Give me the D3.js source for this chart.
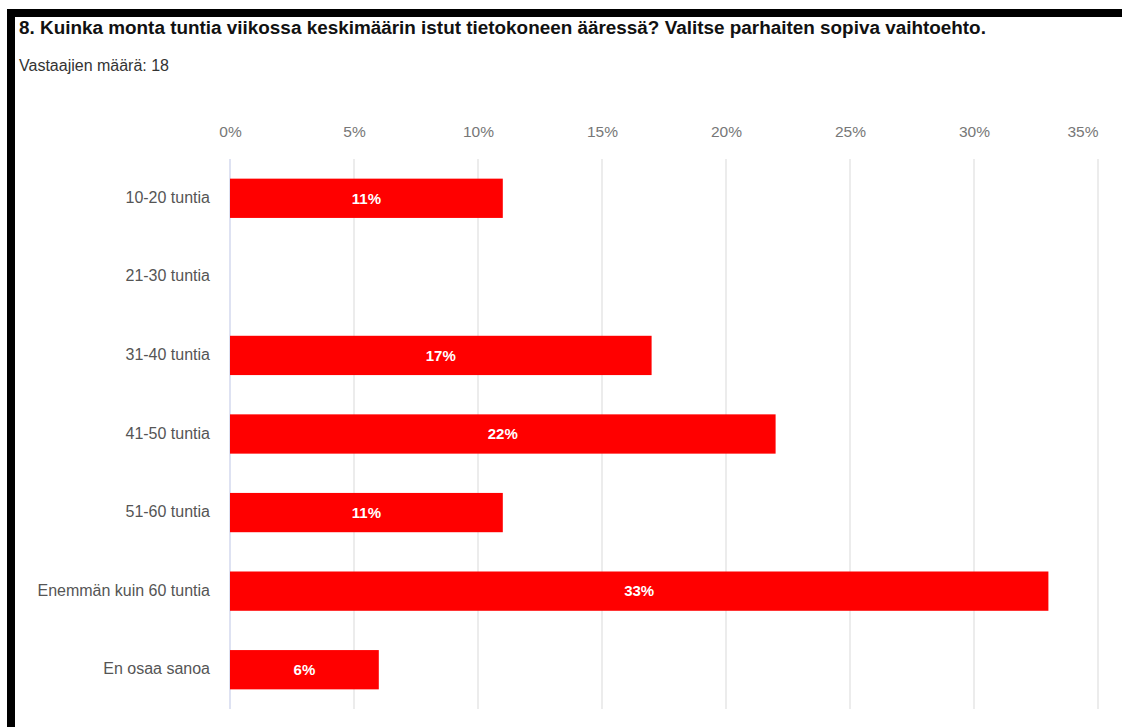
<!DOCTYPE html>
<html>
<head>
<meta charset="utf-8">
<script src="https://cdn.jsdelivr.net/npm/d3@7"></script>
<style>
  html, body { margin: 0; padding: 0; background: #fff; }
  svg { display: block; }
</style>
</head>
<body>
<svg id="chart" width="1122" height="727"></svg>
<script>
// Survey answers: hours per week at the computer
const categories = ["10-20 tuntia", "21-30 tuntia", "31-40 tuntia", "41-50 tuntia", "51-60 tuntia", "Enemmän kuin 60 tuntia", "En osaa sanoa"];
const shares = [11, 0, 17, 22, 11, 33, 6];
const tickValues = [0, 5, 10, 15, 20, 25, 30, 35];
const questionTitle = "8. Kuinka monta tuntia viikossa keskimäärin istut tietokoneen ääressä? Valitse parhaiten sopiva vaihtoehto.";
const respondents = "Vastaajien määrä: 18";

const svg = d3.select("#chart");
const font = "Arial, 'Liberation Sans', sans-serif";

// Black frame on the top and left edges
svg.append("rect").attr("x", 7).attr("y", 9).attr("width", 1115).attr("height", 8).attr("fill", "#000");
svg.append("rect").attr("x", 7).attr("y", 9).attr("width", 8).attr("height", 718).attr("fill", "#000");

svg.append("text")
  .attr("x", 19).attr("y", 34)
  .attr("font-family", font).attr("font-size", 18.9).attr("font-weight", "bold")
  .attr("fill", "#111")
  .text(questionTitle);

svg.append("text")
  .attr("x", 19).attr("y", 71)
  .attr("font-family", font).attr("font-size", 16)
  .attr("fill", "#333")
  .text(respondents);

const x = d3.scaleLinear().domain([0, 35]).range([230, 1098]);
const y = d3.scaleBand().domain(categories).range([159, 709]).paddingInner(0.5).paddingOuter(0.25);

// Vertical grid lines
svg.append("g").selectAll("line")
  .data(tickValues)
  .join("line")
  .attr("x1", d => x(d)).attr("x2", d => x(d))
  .attr("y1", 159).attr("y2", 709)
  .attr("stroke", d => d === 0 ? "#d3d9ee" : "#e6e6e6")
  .attr("stroke-width", 1.5);

// Top axis labels; the last one is kept inside the plot edge
const lastTick = tickValues[tickValues.length - 1];
const axis = svg.append("g")
  .attr("transform", "translate(0,137)")
  .call(d3.axisTop(x).tickValues(tickValues).tickFormat(d => d + "%").tickSize(0).tickPadding(0));
axis.select(".domain").remove();
axis.selectAll("text")
  .attr("font-family", font).attr("font-size", 15.5).attr("fill", "#777")
  .attr("text-anchor", d => d === lastTick ? "end" : "middle");

// Category labels
svg.append("g").selectAll("text")
  .data(categories)
  .join("text")
  .attr("x", 210)
  .attr("y", d => y(d) + y.bandwidth() / 2 - 1)
  .attr("dy", "0.35em")
  .attr("text-anchor", "end")
  .attr("font-family", font).attr("font-size", 16).attr("fill", "#555")
  .text(d => d);

const rows = categories.map((c, i) => ({ c, v: shares[i] }));

// Bars
svg.append("g").selectAll("rect")
  .data(rows.filter(d => d.v > 0))
  .join("rect")
  .attr("x", x(0))
  .attr("y", d => y(d.c))
  .attr("width", d => x(d.v) - x(0))
  .attr("height", y.bandwidth())
  .attr("fill", "#ff0000");

// Value labels inside bars
svg.append("g").selectAll("text")
  .data(rows.filter(d => d.v > 0))
  .join("text")
  .attr("x", d => (x(0) + x(d.v)) / 2)
  .attr("y", d => y(d.c) + y.bandwidth() / 2)
  .attr("dy", "0.35em")
  .attr("text-anchor", "middle")
  .attr("font-family", font).attr("font-size", 15).attr("font-weight", "bold")
  .attr("fill", "#fff")
  .text(d => d.v + "%");
</script>
</body>
</html>
